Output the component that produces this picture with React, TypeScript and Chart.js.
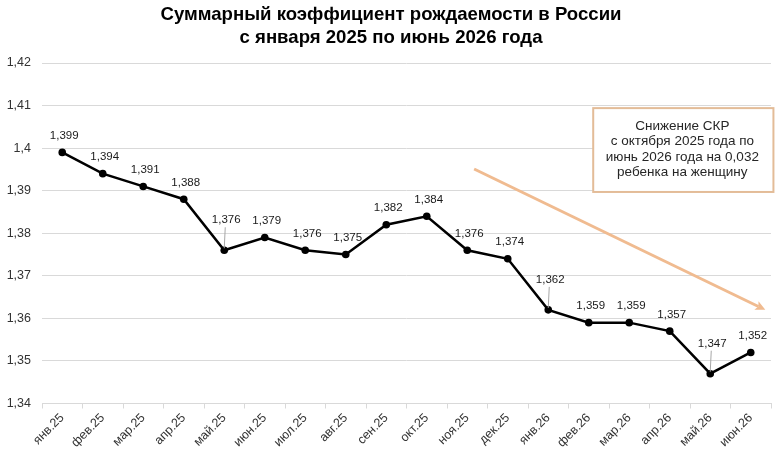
import React, { useEffect, useRef } from "react";
import { Chart, registerables } from "chart.js";

Chart.register(...registerables);

// Total fertility rate in Russia, monthly
const months = [
  "янв.25", "фев.25", "мар.25", "апр.25", "май.25", "июн.25",
  "июл.25", "авг.25", "сен.25", "окт.25", "ноя.25", "дек.25",
  "янв.26", "фев.26", "мар.26", "апр.26", "май.26", "июн.26",
];
const tfr = [
  1.399, 1.394, 1.391, 1.388, 1.376, 1.379,
  1.376, 1.375, 1.382, 1.384, 1.376, 1.374,
  1.362, 1.359, 1.359, 1.357, 1.347, 1.352,
];
const yMin = 1.34;
const yMax = 1.42;
const yStep = 0.01;

const titleLines = [
  "Суммарный коэффициент рождаемости в России",
  "с января 2025 по июнь 2026 года",
];
const noteLines = [
  "Снижение СКР",
  "с октября 2025 года по",
  "июнь 2026 года на 0,032",
  "ребенка на женщину",
];
// points whose labels sit higher, joined to the marker by a thin leader
const calloutIdx = [4, 12, 16];

// trend arrow and note box, in (category index, value) coordinates
const arrowFrom = { x: 10.17, y: 1.3951 };
const arrowTo = { x: 17.36, y: 1.362 };
const noteBox = { x0: 13.11, x1: 17.56, y0: 1.4094, y1: 1.3897 };

const FONT = '"Liberation Sans", Arial, sans-serif';
const fmt = (v: number, digits: number) =>
  String(Number(v.toFixed(digits))).replace(".", ",");

const titlePlugin = {
  id: "twoLineTitle",
  afterDraw(chart: any) {
    const ctx = chart.ctx;
    ctx.save();
    ctx.font = `bold 18.6px ${FONT}`;
    ctx.fillStyle = "#000";
    ctx.textAlign = "center";
    ctx.textBaseline = "alphabetic";
    ctx.fillText(titleLines[0], 391, 19.5);
    ctx.fillText(titleLines[1], 391, 43);
    ctx.restore();
  },
};

const valueLabels = {
  id: "valueLabels",
  afterDatasetsDraw(chart: any) {
    const meta = chart.getDatasetMeta(0);
    const ctx = chart.ctx;
    ctx.save();
    ctx.font = `11.5px ${FONT}`;
    ctx.fillStyle = "#1a1a1a";
    ctx.textAlign = "center";
    ctx.textBaseline = "middle";
    meta.data.forEach((pt: any, i: number) => {
      const callout = calloutIdx.includes(i);
      const lift = callout ? 30 : 16.5;
      const lx = pt.x + 2;
      const ly = pt.y - lift;
      if (callout) {
        ctx.strokeStyle = "#a6a6a6";
        ctx.lineWidth = 1;
        ctx.beginPath();
        ctx.moveTo(lx - 1, ly + 7);
        ctx.lineTo(pt.x, pt.y - 2);
        ctx.stroke();
      }
      ctx.fillText(fmt(tfr[i], 3), lx, ly);
    });
    ctx.restore();
  },
};

const notePlugin = {
  id: "trendNote",
  afterDatasetsDraw(chart: any) {
    const { ctx, scales } = chart;
    const xs = scales.x;
    const ys = scales.y;
    ctx.save();

    // trend arrow
    const ax0 = xs.getPixelForValue(arrowFrom.x);
    const ay0 = ys.getPixelForValue(arrowFrom.y);
    const ax1 = xs.getPixelForValue(arrowTo.x);
    const ay1 = ys.getPixelForValue(arrowTo.y);
    const ang = Math.atan2(ay1 - ay0, ax1 - ax0);
    const head = 11;
    const spread = 0.45;
    ctx.strokeStyle = "#f0bb90";
    ctx.fillStyle = "#f0bb90";
    ctx.lineWidth = 3;
    ctx.lineCap = "butt";
    ctx.beginPath();
    ctx.moveTo(ax0, ay0);
    ctx.lineTo(ax1 - Math.cos(ang) * head * 0.7, ay1 - Math.sin(ang) * head * 0.7);
    ctx.stroke();
    ctx.beginPath();
    ctx.moveTo(ax1, ay1);
    ctx.lineTo(ax1 - head * Math.cos(ang - spread), ay1 - head * Math.sin(ang - spread));
    ctx.lineTo(ax1 - head * 0.7 * Math.cos(ang), ay1 - head * 0.7 * Math.sin(ang));
    ctx.lineTo(ax1 - head * Math.cos(ang + spread), ay1 - head * Math.sin(ang + spread));
    ctx.closePath();
    ctx.fill();

    // note box
    const bx0 = xs.getPixelForValue(noteBox.x0);
    const bx1 = xs.getPixelForValue(noteBox.x1);
    const by0 = ys.getPixelForValue(noteBox.y0);
    const by1 = ys.getPixelForValue(noteBox.y1);
    ctx.fillStyle = "#ffffff";
    ctx.fillRect(bx0, by0, bx1 - bx0, by1 - by0);
    ctx.strokeStyle = "#e3bc98";
    ctx.lineWidth = 2;
    ctx.strokeRect(bx0, by0, bx1 - bx0, by1 - by0);

    ctx.font = `13.5px ${FONT}`;
    ctx.fillStyle = "#262626";
    ctx.textAlign = "center";
    ctx.textBaseline = "middle";
    const cx = (bx0 + bx1) / 2 - 1;
    const lh = 15.5;
    const cy = (by0 + by1) / 2 - 1;
    noteLines.forEach((line, i) => {
      ctx.fillText(line, cx, cy + (i - (noteLines.length - 1) / 2) * lh);
    });
    ctx.restore();
  },
};

export default function App() {
  const canvasRef = useRef<HTMLCanvasElement | null>(null);

  useEffect(() => {
    const canvas = canvasRef.current;
    if (!canvas) return;
    const chart = new Chart(canvas, {
      type: "line",
      data: {
        labels: months,
        datasets: [
          {
            data: tfr,
            borderColor: "#000000",
            backgroundColor: "#000000",
            borderWidth: 2.5,
            pointRadius: 3.8,
            pointBackgroundColor: "#000000",
            pointBorderWidth: 0,
            tension: 0,
          },
        ],
      },
      options: {
        responsive: false,
        animation: false,
        devicePixelRatio: 1,
        layout: { padding: { top: 63, right: 8, left: 0, bottom: 0 } },
        plugins: {
          legend: { display: false },
          title: { display: false },
          tooltip: { enabled: false },
        },
        scales: {
          x: {
            offset: true,
            grid: {
              offset: true,
              drawOnChartArea: false,
              drawTicks: true,
              tickLength: 5,
              color: "#d9d9d9",
            },
            border: { display: true, color: "#d9d9d9" },
            ticks: {
              autoSkip: false,
              minRotation: 45,
              maxRotation: 45,
              padding: 2,
              color: "#333333",
              font: { family: FONT, size: 12.5 },
            },
            afterFit(scale: any) {
              scale.height = 55.5;
            },
          },
          y: {
            min: yMin,
            max: yMax,
            grid: { color: "#d9d9d9", drawTicks: false },
            border: { display: false },
            ticks: {
              stepSize: yStep,
              padding: 11,
              color: "#333333",
              font: { family: FONT, size: 12.5 },
              callback: (v: any) => fmt(Number(v), 2),
            },
            afterFit(scale: any) {
              scale.width = 42;
            },
          },
        },
      },
      plugins: [valueLabels, notePlugin, titlePlugin],
    });
    return () => chart.destroy();
  }, []);

  return (
    <div
      style={{
        position: "fixed",
        left: 0,
        top: 0,
        width: 779,
        height: 459,
        background: "#ffffff",
      }}
    >
      <canvas ref={canvasRef} width={779} height={459} />
    </div>
  );
}
